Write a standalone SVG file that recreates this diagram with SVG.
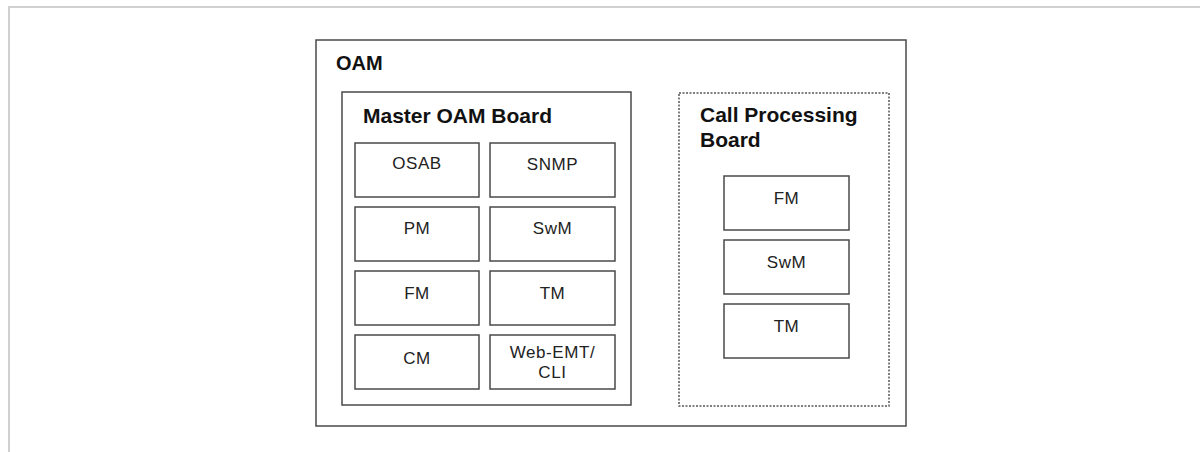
<svg xmlns="http://www.w3.org/2000/svg" width="1200" height="452" viewBox="0 0 1200 452">
<style>
.frame{fill:none;stroke:#d0d0d0;stroke-width:2}
.box{fill:#fff;stroke:#4a4a4a;stroke-width:1.5}
.dash{fill:#fff;stroke:#555;stroke-width:1.5;stroke-dasharray:2 1.5}
.h{font-family:"Liberation Sans",Arial,sans-serif;font-weight:bold;font-size:20px;fill:#111}
.h2{font-family:"Liberation Sans",Arial,sans-serif;font-weight:bold;font-size:21px;fill:#111}
.t{font-family:"Liberation Sans",Arial,sans-serif;font-size:17px;letter-spacing:0.6px;fill:#222;text-anchor:middle}
</style>
<rect width="1200" height="452" fill="#fff"/>
<path class="frame" d="M9,452 V7 H1200"/>
<g id="oam">
<rect class="box" x="316" y="40" width="590" height="386"/>
<text class="h" x="336" y="70">OAM</text>
</g>
<g id="master">
<rect class="box" x="342" y="92" width="289" height="313"/>
<text class="h2" x="363" y="123">Master OAM Board</text>
</g>
<g id="osab"><rect class="box" x="355" y="143" width="124" height="54"/><text class="t" x="417" y="169">OSAB</text></g>
<g id="snmp"><rect class="box" x="490" y="143" width="125" height="54"/><text class="t" x="552.5" y="170">SNMP</text></g>
<g id="pm"><rect class="box" x="355" y="207" width="124" height="54"/><text class="t" x="417" y="234">PM</text></g>
<g id="swm1"><rect class="box" x="490" y="207" width="125" height="54"/><text class="t" x="552.5" y="234">SwM</text></g>
<g id="fm1"><rect class="box" x="355" y="271" width="124" height="54"/><text class="t" x="417" y="299">FM</text></g>
<g id="tm1"><rect class="box" x="490" y="271" width="125" height="54"/><text class="t" x="552.5" y="299">TM</text></g>
<g id="cm"><rect class="box" x="355" y="335" width="124" height="54"/><text class="t" x="417" y="364">CM</text></g>
<g id="webemt"><rect class="box" x="490" y="335" width="125" height="54"/><text class="t" x="552.5" y="358">Web-EMT/</text><text class="t" x="552.5" y="378">CLI</text></g>
<g id="cpb">
<rect class="dash" x="679" y="93" width="210" height="313"/>
<text class="h2" x="700" y="122">Call Processing</text>
<text class="h2" x="700" y="147">Board</text>
</g>
<g id="fm2"><rect class="box" x="724" y="176" width="125" height="54"/><text class="t" x="786.5" y="204">FM</text></g>
<g id="swm2"><rect class="box" x="724" y="240" width="125" height="54"/><text class="t" x="786.5" y="268">SwM</text></g>
<g id="tm2"><rect class="box" x="724" y="304" width="125" height="54"/><text class="t" x="786.5" y="332">TM</text></g>
<g id="connectors"></g>
</svg>
